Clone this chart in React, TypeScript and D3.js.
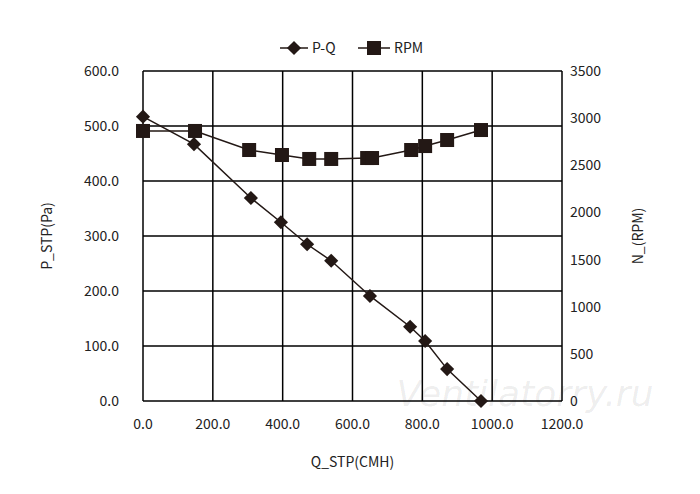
import React from 'react';
import * as d3 from 'd3';

const pqFlow = [0, 146, 309, 395, 470, 539, 650, 765, 808, 871, 968];
const pqPressure = [517, 467, 369, 325, 285, 255, 191, 135, 109, 58, 0];
const rpmFlow = [0, 149, 304, 398, 476, 539, 642, 656, 768, 808, 871, 968];
const rpmValues = [2864, 2864, 2662, 2609, 2567, 2567, 2577, 2577, 2662, 2704, 2768, 2874];
const xTicks = [0, 200, 400, 600, 800, 1000, 1200];
const yTicks = [0, 100, 200, 300, 400, 500, 600];
const y2Ticks = [0, 500, 1000, 1500, 2000, 2500, 3000, 3500];

const font = '"Noto Sans CJK SC", "Noto Sans", sans-serif';

export default function App() {
  const W = 700, H = 494;
  const m = { left: 143, right: 138, top: 71, bottom: 93 };
  const x = d3.scaleLinear().domain([0, 1200]).range([m.left, W - m.right]);
  const y = d3.scaleLinear().domain([0, 600]).range([H - m.bottom, m.top]);
  const y2 = d3.scaleLinear().domain([0, 3500]).range([H - m.bottom, m.top]);
  const lineP = d3.line<number>().x((_, i) => x(pqFlow[i])).y(d => y(d));
  const lineR = d3.line<number>().x((_, i) => x(rpmFlow[i])).y(d => y2(d));
  const x0 = x(0), x1 = x(1200), yb = y(0), yt = y(600);
  const c = '#231815';
  return (
    <svg width={W} height={H} style={{ position: 'absolute', left: 0, top: 0, fontFamily: font }}>
      <rect width={W} height={H} fill="#fff" />
      {xTicks.map(t => <line key={'x' + t} x1={x(t)} x2={x(t)} y1={yt} y2={yb} stroke="#000" strokeWidth={1.5} />)}
      {yTicks.map(t => <line key={'y' + t} x1={x0} x2={x1} y1={y(t)} y2={y(t)} stroke="#000" strokeWidth={1.5} />)}
      {xTicks.map(t => <text key={'xl' + t} x={x(t)} y={yb + 28} textAnchor="middle" fontSize={14} fill="#222">{t.toFixed(1)}</text>)}
      {yTicks.map(t => <text key={'yl' + t} x={x0 - 24} y={y(t) + 5} textAnchor="end" fontSize={14} fill="#222">{t.toFixed(1)}</text>)}
      {y2Ticks.map(t => <text key={'y2' + t} x={x1 + 8} y={y2(t) + 5} textAnchor="start" fontSize={14} fill="#222">{t}</text>)}
      <text x={(x0 + x1) / 2} y={467} textAnchor="middle" fontSize={14} fill="#222">Q_STP(CMH)</text>
      <text transform={`translate(52,${(yt + yb) / 2}) rotate(-90)`} textAnchor="middle" fontSize={14} fill="#222">P_STP(Pa)</text>
      <text transform={`translate(643,${(yt + yb) / 2}) rotate(-90)`} textAnchor="middle" fontSize={14} fill="#222">N_(RPM)</text>
      <text x={525} y={406} textAnchor="middle" fontSize={36} fontStyle="italic" fill="#000" fillOpacity={0.08} fontFamily="DejaVu Sans">Ventilatorry.ru</text>
      <path d={lineP(pqPressure) || ''} fill="none" stroke={c} strokeWidth={1.5} />
      <path d={lineR(rpmValues) || ''} fill="none" stroke={c} strokeWidth={1.5} />
      {pqPressure.map((p, i) => (
        <rect key={'d' + i} x={-5} y={-5} width={10} height={10} fill={c}
          transform={`translate(${x(pqFlow[i])},${y(p)}) rotate(45)`} />
      ))}
      {rpmValues.map((r, i) => (
        <rect key={'s' + i} x={x(rpmFlow[i]) - 7} y={y2(r) - 7} width={14} height={14} fill={c} />
      ))}
      <g transform="translate(280,48)">
        <line x1={0} x2={28} y1={0} y2={0} stroke={c} strokeWidth={1.5} />
        <rect x={-5} y={-5} width={10} height={10} fill={c} transform="translate(14,0) rotate(45)" />
        <text x={32} y={5} fontSize={14} fill="#222">P-Q</text>
        <line x1={78} x2={110} y1={0} y2={0} stroke={c} strokeWidth={1.5} />
        <rect x={87} y={-7} width={14} height={14} fill={c} />
        <text x={114} y={5} fontSize={14} fill="#222">RPM</text>
      </g>
    </svg>
  );
}
